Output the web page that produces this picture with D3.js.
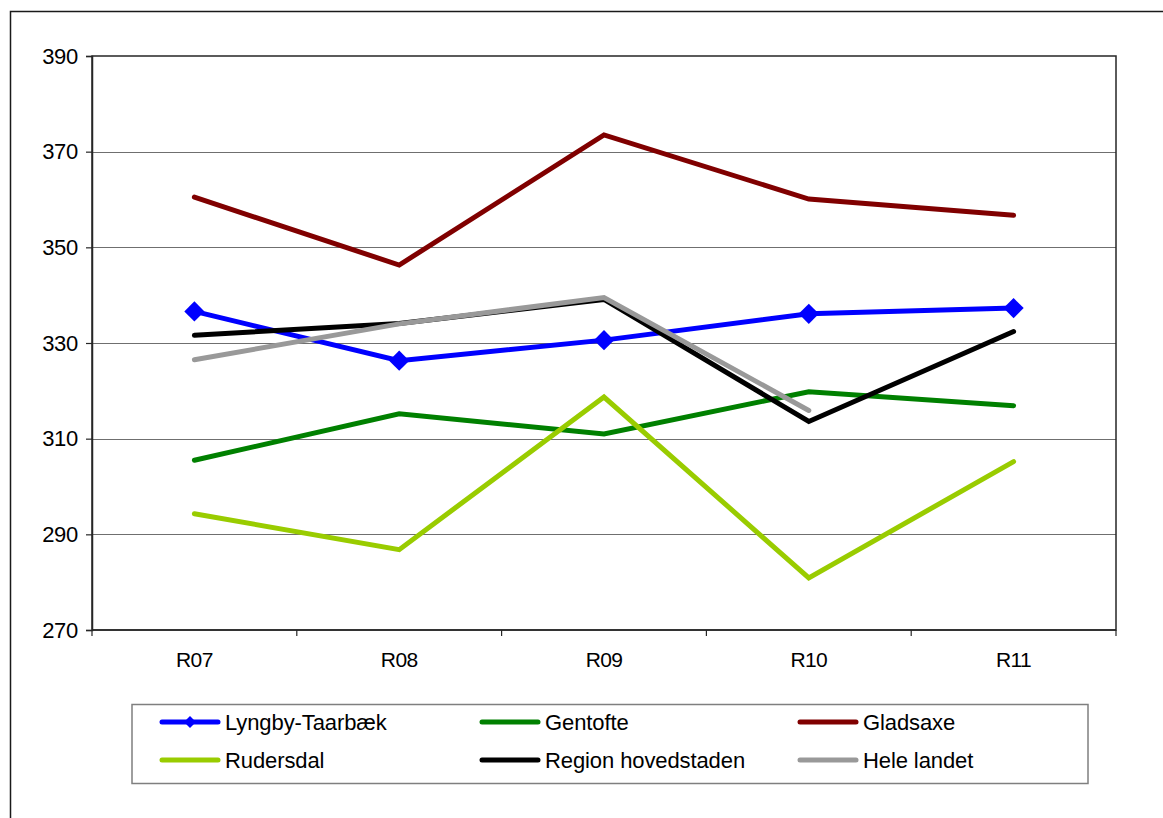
<!DOCTYPE html>
<html>
<head>
<meta charset="utf-8">
<script src="https://cdn.jsdelivr.net/npm/d3@7"></script>
<style>
  html, body { margin: 0; padding: 0; background: #fff; }
  svg { display: block; }
  text { font-family: "Liberation Sans", Arial, sans-serif; fill: #000; }
</style>
</head>
<body>
<svg id="chart" width="1163" height="818"></svg>
<script>
const categories = ["R07", "R08", "R09", "R10", "R11"];
const yTicks = [270, 290, 310, 330, 350, 370, 390];

const seriesNames = ["Lyngby-Taarbæk", "Gentofte", "Gladsaxe", "Rudersdal", "Region hovedstaden", "Hele landet"];
const lyngby     = [336.6, 326.3, 330.6, 336.1, 337.3];
const gentofte   = [305.5, 315.2, 311.0, 319.8, 316.9];
const gladsaxe   = [360.5, 346.3, 373.5, 360.1, 356.7];
const rudersdal  = [294.3, 286.8, 318.7, 280.9, 305.2];
const region     = [331.6, 334.1, 339.1, 313.6, 332.4];
const heleLandet = [326.5, 334.0, 339.5, 315.9, null];
const seriesColors = ["#0000ff", "#008000", "#800000", "#99cc00", "#000000", "#999999"];
const seriesMarkers = [true, false, false, false, false, false];

const allValues = [lyngby, gentofte, gladsaxe, rudersdal, region, heleLandet];

const svg = d3.select("#chart");
const FONT = 21;

// outer frame
svg.append("rect")
  .attr("x", 10.5).attr("y", 11.5)
  .attr("width", 1200).attr("height", 900)
  .attr("fill", "none").attr("stroke", "#1a1a1a").attr("stroke-width", 1.5);

const plot = { left: 92, top: 56, right: 1116, bottom: 630 };

const x = d3.scaleBand().domain(categories).range([plot.left, plot.right]).padding(0);
const y = d3.scaleLinear().domain([270, 390]).range([plot.bottom, plot.top]);

// gridlines
svg.append("g")
  .selectAll("line")
  .data(yTicks.filter(t => t !== 270 && t !== 390))
  .join("line")
  .attr("x1", plot.left).attr("x2", plot.right)
  .attr("y1", d => Math.round(y(d)) + 0.5).attr("y2", d => Math.round(y(d)) + 0.5)
  .attr("stroke", "#6f6f6f").attr("stroke-width", 1.2);

// plot border
svg.append("rect")
  .attr("x", plot.left).attr("y", plot.top)
  .attr("width", plot.right - plot.left).attr("height", plot.bottom - plot.top)
  .attr("fill", "none").attr("stroke", "#262626").attr("stroke-width", 1.5);

// y axis
const yAxis = d3.axisLeft(y).tickValues(yTicks).tickSize(6).tickPadding(8).tickFormat(d3.format("d"));
const gy = svg.append("g").attr("transform", `translate(${plot.left},0)`).call(yAxis);
gy.select(".domain").attr("stroke", "#262626").attr("stroke-width", 1.5);
gy.selectAll(".tick line").attr("stroke", "#262626").attr("stroke-width", 1.2);
gy.selectAll(".tick text").attr("font-size", 22).attr("font-family", '"Liberation Sans", Arial, sans-serif')
  .attr("fill", "#000").attr("letter-spacing", "-0.3");

// x axis: ticks at band boundaries
const boundaries = categories.map(c => x(c)).concat([plot.right]);
svg.append("g").selectAll("line").data(boundaries).join("line")
  .attr("x1", d => d).attr("x2", d => d)
  .attr("y1", plot.bottom).attr("y2", plot.bottom + 6)
  .attr("stroke", "#262626").attr("stroke-width", 1.2);
svg.append("line")
  .attr("x1", plot.left).attr("x2", plot.right)
  .attr("y1", plot.bottom).attr("y2", plot.bottom)
  .attr("stroke", "#262626").attr("stroke-width", 1.5);
svg.append("g").selectAll("text").data(categories).join("text")
  .attr("x", d => x(d) + x.bandwidth() / 2)
  .attr("y", 667)
  .attr("text-anchor", "middle")
  .attr("font-size", FONT)
  .attr("letter-spacing", "-0.6")
  .text(d => d);

// lines
const cx = c => x(c) + x.bandwidth() / 2;
const line = d3.line()
  .defined(d => d.v !== null)
  .x(d => cx(d.c))
  .y(d => y(d.v));

const diamond = d3.symbol().type(d3.symbolDiamond2);

allValues.forEach((vals, i) => {
  const pts = categories.map((c, j) => ({ c, v: vals[j] }));
  svg.append("path")
    .datum(pts)
    .attr("d", line)
    .attr("fill", "none")
    .attr("stroke", seriesColors[i])
    .attr("stroke-width", 5)
    .attr("stroke-linejoin", "miter")
    .attr("stroke-linecap", "round");
  if (seriesMarkers[i]) {
    svg.append("g").selectAll("path").data(pts.filter(p => p.v !== null)).join("path")
      .attr("d", diamond.size(260))
      .attr("transform", p => `translate(${cx(p.c)},${y(p.v)})`)
      .attr("fill", seriesColors[i]);
  }
});

// legend
const legend = svg.append("g");
legend.append("rect")
  .attr("x", 132).attr("y", 704.5)
  .attr("width", 956).attr("height", 79)
  .attr("fill", "#fff").attr("stroke", "#7f7f7f").attr("stroke-width", 1.5);

const colX = [162, 482, 800];
const rowY = [722, 760];
seriesNames.forEach((name, i) => {
  const col = i % 3, row = Math.floor(i / 3);
  const lx = colX[col], ly = rowY[row];
  legend.append("line")
    .attr("x1", lx).attr("x2", lx + 56)
    .attr("y1", ly).attr("y2", ly)
    .attr("stroke", seriesColors[i]).attr("stroke-width", 5)
    .attr("stroke-linecap", "round");
  if (seriesMarkers[i]) {
    legend.append("path")
      .attr("d", diamond.size(90))
      .attr("transform", `translate(${lx + 28},${ly})`)
      .attr("fill", seriesColors[i]);
  }
  legend.append("text")
    .attr("x", lx + 63).attr("y", ly + 8)
    .attr("font-size", 22)
    .attr("letter-spacing", "-0.1")
    .text(name);
});
</script>
</body>
</html>
